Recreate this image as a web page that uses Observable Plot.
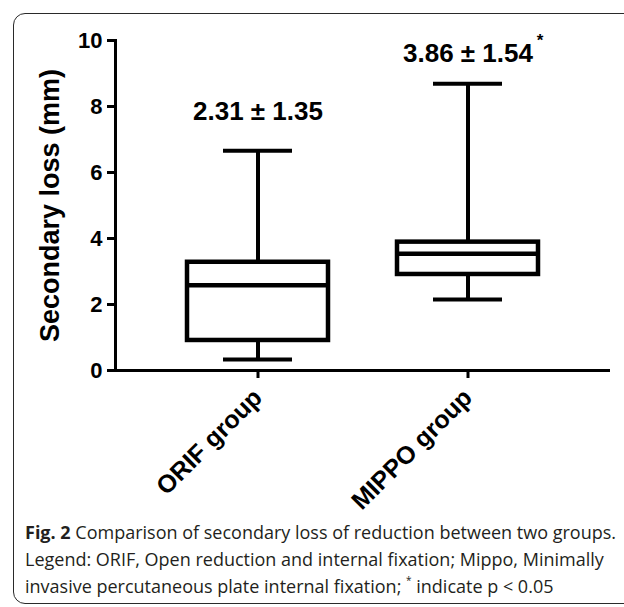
<!DOCTYPE html>
<html><head><meta charset="utf-8">
<script src="https://cdn.jsdelivr.net/npm/d3@7"></script>
<script src="https://cdn.jsdelivr.net/npm/@observablehq/plot@0.6"></script>
<style>
html,body{margin:0;padding:0;background:#fff;overflow:hidden;width:624px;height:607px;}
#frame{position:absolute;left:13px;top:13px;width:680px;height:591px;border:1.5px solid #2a2a2a;border-radius:12px;box-sizing:border-box;}
#chart{position:absolute;left:0;top:0;}
#caption{position:absolute;left:25px;top:519px;font-family:"Open Sans",sans-serif;font-size:18px;color:#231f20;line-height:27px;white-space:nowrap;}
#caption div{height:27px;}
#caption sup{font-size:10px;vertical-align:top;line-height:10px;position:relative;top:2px;}
</style></head><body>
<div id="frame"></div>
<div id="chart"></div>
<div id="caption">
<div id="l1"><b>Fig. 2</b> Comparison of secondary loss of reduction between two groups.</div>
<div id="l2">Legend: ORIF, Open reduction and internal fixation; Mippo, Minimally</div>
<div id="l3">invasive percutaneous plate internal fixation; <sup>*</sup> indicate p &lt; 0.05</div>
</div>
<script>
const groups = ["ORIF group", "MIPPO group"];
const minVals = [0.33, 2.15];
const q1Vals = [0.91, 2.91];
const medianVals = [2.58, 3.54];
const q3Vals = [3.28, 3.89];
const maxVals = [6.66, 8.69];
const meanSdLabels = ["2.31 ± 1.35", "3.86 ± 1.54"];
const meanSdLabelY = [7.85, 9.6];
const sigMarks = ["", "*"];
const yTicks = [0, 2, 4, 6, 8, 10];
const yLabel = "Secondary loss (mm)";

const rows = groups.map((g, i) => ({
  group: g, min: minVals[i], q1: q1Vals[i], median: medianVals[i],
  q3: q3Vals[i], max: maxVals[i], label: meanSdLabels[i], labelY: meanSdLabelY[i], sig: sigMarks[i]
}));

const chart = Plot.plot({
  width: 624, height: 525,
  marginLeft: 115, marginRight: 14, marginTop: 40, marginBottom: 155,
  style: {fontFamily: "'Liberation Sans', Arial, sans-serif", background: "transparent", color: "#000"},
  x: {domain: groups, paddingInner: 0.33, paddingOuter: 0.34, axis: null},
  y: {domain: [0, 10], axis: null},
  marks: [
    Plot.ruleX(rows, {x: "group", y1: "min", y2: "q1", strokeWidth: 4}),
    Plot.ruleX(rows, {x: "group", y1: "q3", y2: "max", strokeWidth: 4}),
    Plot.tickY(rows, {x: "group", y: "min", strokeWidth: 4, insetLeft: 36, insetRight: 36}),
    Plot.tickY(rows, {x: "group", y: "max", strokeWidth: 4, insetLeft: 36, insetRight: 36}),
    Plot.barY(rows, {x: "group", y1: "q1", y2: "q3", fill: "white", stroke: "black", strokeWidth: 4.5}),
    Plot.tickY(rows, {x: "group", y: "median", strokeWidth: 4.5, insetLeft: 2, insetRight: 2}),
    Plot.frame({anchor: "left", strokeWidth: 3}),
    Plot.ruleY([0], {strokeWidth: 3}),
    Plot.axisY({ticks: yTicks, tickSize: 8, tickPadding: 5, fontSize: 22, fontWeight: "bold", strokeWidth: 3, label: null}),
    Plot.axisX({tickSize: 8, tickRotate: -45, tickPadding: 15, fontSize: 25, fontWeight: "bold", strokeWidth: 3, label: null}),
    Plot.text([yLabel], {frameAnchor: "left", textAnchor: "middle", rotate: -90, dx: -65, fontSize: 27, fontWeight: "bold"}),
    Plot.text(rows, {x: "group", y: "labelY", text: "label", fontSize: 26, fontWeight: "bold"}),
    Plot.text(rows, {x: "group", y: "labelY", text: "sig", fontSize: 17, fontWeight: "bold", dx: 72, dy: -13})
  ]
});
document.getElementById("chart").appendChild(chart);
</script>
</body></html>
